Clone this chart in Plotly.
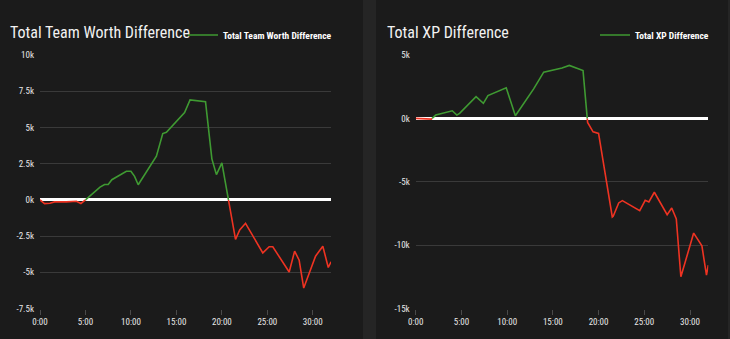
import plotly.graph_objects as go

# ---------------- data ----------------
worth_min = [0, 0.5, 1.1, 1.6, 2.9, 4.0, 4.5, 5.0, 6.6, 7.1, 7.5, 7.9, 9.5, 10.0, 10.4, 10.8,
             12.8, 13.5, 13.9, 15.9, 16.5, 18.2, 18.9, 19.4, 20.0, 21.5, 21.96, 22.6, 24.5,
             25.2, 25.6, 27.4, 28.0, 28.5, 29.0, 30.3, 31.1, 31.7, 32.0]
worth_val = [0, -260, -230, -140, -140, -100, -250, 0, 880, 1060, 1060, 1390, 1970, 1970, 1620, 1040,
             3010, 4580, 4670, 6020, 6900, 6780, 2830, 1740, 2550, -2730, -2080, -1620, -3660,
             -3240, -3240, -4980, -3540, -4170, -6090, -3890, -3200, -4670, -4280]

xp_min = [0, 1.7, 2.2, 4.0, 4.5, 4.8, 6.6, 7.4, 7.9, 9.9, 10.9, 12.9, 14.0, 16.0, 16.8, 18.3,
          18.8, 19.4, 20.0, 21.5, 21.6, 22.2, 22.6, 24.5, 25.1, 25.5, 26.1, 27.5, 28.0, 28.5,
          29.0, 30.4, 31.3, 31.8, 32.0]
xp_val = [0, -60, 260, 600, 260, 400, 1720, 1190, 1800, 2410, 210, 2330, 3650, 3970, 4180, 3780,
          -320, -1060, -1190, -7780, -7730, -6670, -6490, -7280, -6460, -6590, -5830, -7600, -7070, -7940,
          -12500, -9050, -10060, -12360, -11570]

time_ticks = [0, 5, 10, 15, 20, 25, 30]
time_labels = ["0:00", "5:00", "10:00", "15:00", "20:00", "25:00", "30:00"]

worth_ticks = [-7500, -5000, -2500, 0, 2500, 5000, 7500, 10000]
worth_labels = ["-7.5k", "-5k", "-2.5k", "0k", "2.5k", "5k", "7.5k", "10k"]

xp_ticks = [-15000, -10000, -5000, 0, 5000]
xp_labels = ["-15k", "-10k", "-5k", "0k", "5k"]

titles = ["Total Team Worth Difference", "Total XP Difference"]

GREEN = "#3f9a32"
RED = "#ee3322"
PANEL = "#1b1b1b"
GAP = "#252525"
GRID = "#3a3a3a"
TXT = "#e8e8e8"
FONT = "Roboto Condensed, Liberation Sans Narrow, DejaVu Sans Condensed, Roboto, sans-serif"


def split_sign(xs, ys):
    """Insert zero crossings, return positive and negative series."""
    ax, ay = [xs[0]], [ys[0]]
    for i in range(1, len(xs)):
        x0, y0, x1, y1 = xs[i - 1], ys[i - 1], xs[i], ys[i]
        if y0 * y1 < 0:
            xc = x0 + (0 - y0) * (x1 - x0) / (y1 - y0)
            ax.append(xc)
            ay.append(0)
        ax.append(x1)
        ay.append(y1)
    pos = [y if y >= 0 else None for y in ay]
    neg = [y if y <= 0 else None for y in ay]
    return ax, pos, neg


fig = go.Figure()

series = [(worth_min, worth_val, "x", "y", "legend"), (xp_min, xp_val, "x2", "y2", "legend2")]
for (xs, ys, xa, ya, lg), name in zip(series, titles):
    ax, pos, neg = split_sign(xs, ys)
    fig.add_trace(go.Scatter(x=ax, y=neg, mode="lines", line=dict(color=RED, width=1.6),
                             xaxis=xa, yaxis=ya, showlegend=False, connectgaps=False, hoverinfo="skip"))
    fig.add_trace(go.Scatter(x=ax, y=pos, mode="lines", line=dict(color=GREEN, width=1.6),
                             xaxis=xa, yaxis=ya, name=name, legend=lg, connectgaps=False))

W, H = 730, 339
left_dom = [40 / W, 331 / W]
right_dom = [415.7 / W, 708.3 / W]
ydom = [1 - 308.5 / H, 1 - 55 / H]

xcommon = dict(range=[0, 32], tickmode="array", tickvals=time_ticks, ticktext=time_labels,
               showgrid=False, zeroline=False, ticks="outside", ticklen=5, tickcolor="#4a4a4a",
               showline=False, automargin=False,
               tickfont=dict(family=FONT, size=9, color=TXT), fixedrange=True)
ycommon = dict(tickmode="array", showgrid=True, gridcolor=GRID, gridwidth=1,
               zeroline=True, zerolinecolor="#ffffff", zerolinewidth=3, showline=False,
               ticks="", automargin=False, ticklabelstandoff=5,
               tickfont=dict(family=FONT, size=9, color=TXT), fixedrange=True)

legend_font = dict(family=FONT, size=9.5, color="#ffffff", weight="bold")

fig.update_layout(
    width=W, height=H,
    margin=dict(l=0, r=0, t=0, b=0, pad=0, autoexpand=False),
    paper_bgcolor=GAP, plot_bgcolor="rgba(0,0,0,0)",
    xaxis=dict(domain=left_dom, anchor="y", **xcommon),
    yaxis=dict(domain=ydom, anchor="x", range=[-7500, 10000], tickvals=worth_ticks,
               ticktext=worth_labels, **ycommon),
    xaxis2=dict(domain=right_dom, anchor="y2", **xcommon),
    yaxis2=dict(domain=ydom, anchor="x2", range=[-15000, 5000], tickvals=xp_ticks,
                ticktext=xp_labels, **ycommon),
    legend=dict(x=337 / W, xanchor="right", y=1 - 35 / H, yanchor="middle",
                bgcolor="rgba(0,0,0,0)", font=legend_font, itemwidth=30),
    legend2=dict(x=714 / W, xanchor="right", y=1 - 35 / H, yanchor="middle",
                 bgcolor="rgba(0,0,0,0)", font=legend_font, itemwidth=30),
    shapes=[
        dict(type="rect", xref="paper", yref="paper", x0=0, x1=363 / W, y0=0, y1=1,
             fillcolor=PANEL, line=dict(width=0), layer="below"),
        dict(type="rect", xref="paper", yref="paper", x0=376 / W, x1=728 / W, y0=0, y1=1,
             fillcolor=PANEL, line=dict(width=0), layer="below"),
    ],
    annotations=[
        dict(text=titles[0], xref="paper", yref="paper", x=8 / W, y=1 - 32 / H, xanchor="left",
             yanchor="middle", showarrow=False, font=dict(family=FONT, size=16, color="#f2f2f2")),
        dict(text=titles[1], xref="paper", yref="paper", x=385 / W, y=1 - 32 / H, xanchor="left",
             yanchor="middle", showarrow=False, font=dict(family=FONT, size=16, color="#f2f2f2")),
    ],
    showlegend=True,
)

fig.write_html("out.html")
